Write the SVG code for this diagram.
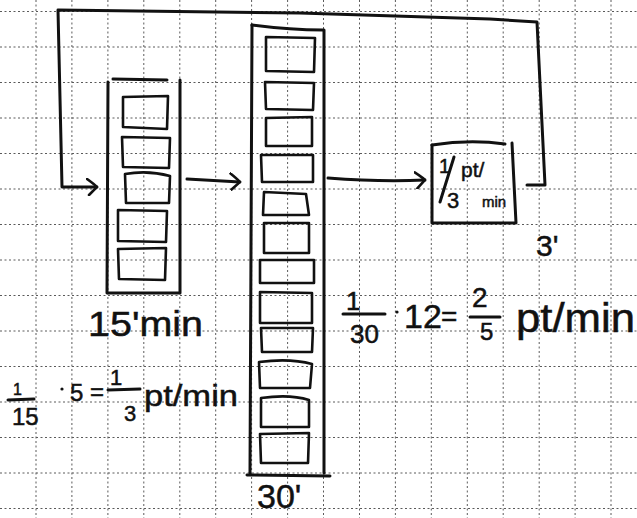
<svg xmlns="http://www.w3.org/2000/svg" width="637" height="518" viewBox="0 0 637 518">
  <defs>
    <style>
      .grid { fill: none; stroke: #5a5a5a; stroke-width: 1; stroke-dasharray: 2 2.5; }
      .ink { fill: none; stroke: #111; stroke-width: 3; stroke-linecap: round; stroke-linejoin: round; }
      .cell { fill: none; stroke: #111; stroke-width: 2.6; stroke-linejoin: round; }
      .hand { font-family: "Liberation Sans", "DejaVu Sans", sans-serif; fill: #111; stroke: #111; stroke-width: 0.5; }
    </style>
    <marker id="chev" viewBox="0 0 12 18" refX="11" refY="9" markerWidth="12" markerHeight="18" markerUnits="userSpaceOnUse" orient="auto">
      <path d="M1,1 Q8,6 11,9 Q7,13 3,17" fill="none" stroke="#111" stroke-width="2.6" stroke-linecap="round"/>
    </marker>
  </defs>

  <rect width="637" height="518" fill="#fff"/>

  <!-- squared paper -->
  <path class="grid" d="M36,0V518 M71.9,0V518 M107.9,0V518 M143.8,0V518 M179.8,0V518 M215.7,0V518 M251.6,0V518 M287.6,0V518 M323.5,0V518 M359.5,0V518 M395.4,0V518 M431.3,0V518 M467.3,0V518 M503.2,0V518 M539.2,0V518 M575.1,0V518 M611,0V518
    M0,11.5H637 M0,47H637 M0,82.5H637 M0,118H637 M0,153.5H637 M0,189H637 M0,224.5H637 M0,260H637 M0,295.5H637 M0,331H637 M0,366.5H637 M0,402H637 M0,437.5H637 M0,473H637 M0,508.5H637"/>

  <!-- connectors -->
  <g id="connectors">
    <path class="ink" d="M527,185 L545,185 L537,22 L490,19 L300,13 L58,10 L62,187 L97,187" marker-end="url(#chev)"/>
    <path class="ink" d="M187,179 L240,182" marker-end="url(#chev)"/>
    <path class="ink" d="M328,178 Q380,182 425,180" marker-end="url(#chev)"/>
  </g>

  <!-- first tank: 5 cells -->
  <g id="tank-15">
    <path class="ink" d="M108,82 L107,293 L180,293 L180,80"/>
    <path class="ink" d="M113,79 L167,80"/>
    <path class="cell" d="M123,97 L168,96 L167,129 L123,127 Z"/>
    <path class="cell" d="M122,137 L170,138 L169,168 L123,167 Z"/>
    <path class="cell" d="M125,174 Q148,170 170,176 L169,203 L126,203 Z"/>
    <path class="cell" d="M118,210 L167,211 L166,242 L118,241 Z"/>
    <path class="cell" d="M118,249 L166,248 L165,280 L119,279 Z"/>
    <text class="hand" x="88" y="336" font-size="35" textLength="115" lengthAdjust="spacingAndGlyphs">15'min</text>
  </g>

  <!-- second tank: 12 cells -->
  <g id="tank-30">
    <path class="ink" d="M252,25 Q290,30 323,30"/>
    <path class="ink" d="M252,25 L250,473"/>
    <path class="ink" d="M324,30 L324,473"/>
    <path class="ink" d="M247,475 L330,476"/>
    <path class="cell" d="M266,37 L315,38 L314,72 L266,71 Z"/>
    <path class="cell" d="M265,82 L314,83 L313,110 L266,109 Z"/>
    <path class="cell" d="M266,118 L312,117 L312,146 L266,146 Z"/>
    <path class="cell" d="M261,155 L313,155 L313,182 L262,182 Z"/>
    <path class="cell" d="M264,192 L306,194 L309,215 L263,215 Z"/>
    <path class="cell" d="M264,223 L309,223 L309,253 L264,253 Z"/>
    <path class="cell" d="M260,260 L314,260 L314,283 L260,283 Z"/>
    <path class="cell" d="M260,292 L312,293 L312,323 L260,323 Z"/>
    <path class="cell" d="M261,328 L313,328 L312,352 L262,352 Z"/>
    <path class="cell" d="M259,362 Q290,358 312,364 L310,388 L260,388 Z"/>
    <path class="cell" d="M261,398 Q290,394 309,400 L309,427 L261,427 Z"/>
    <path class="cell" d="M260,434 L309,433 L308,463 L261,463 Z"/>
    <text class="hand" x="257" y="508" font-size="34">30'</text>
  </g>

  <!-- output box -->
  <g id="output">
    <path class="ink" d="M432,145 Q470,139 505,144"/>
    <path class="ink" d="M512,143 L516,223 L432,223 L432,145"/>
    <text class="hand" x="439" y="173" font-size="20">1</text>
    <path class="ink" d="M440,202 L454,157" stroke-width="2.4"/>
    <text class="hand" x="447" y="208" font-size="22">3</text>
    <text class="hand" x="461" y="177" font-size="21">pt/</text>
    <text class="hand" x="482" y="207" font-size="15">min</text>
    <text class="hand" x="536" y="256" font-size="30">3'</text>
  </g>

  <!-- rate for the first tank -->
  <g id="rate-15">
    <text class="hand" x="13" y="395" font-size="16">1</text>
    <path class="ink" d="M8,400 L34,399" stroke-width="2.4"/>
    <text class="hand" x="12" y="425" font-size="24">15</text>
    <circle cx="62" cy="389" r="1.6" fill="#111"/>
    <text class="hand" x="70" y="401" font-size="24">5</text>
    <text class="hand" x="90" y="400" font-size="24">=</text>
    <text class="hand" x="110" y="385" font-size="22">1</text>
    <path class="ink" d="M108,390 L140,389" stroke-width="2.4"/>
    <text class="hand" x="124" y="421" font-size="22">3</text>
    <text class="hand" x="144" y="406" font-size="30" textLength="94" lengthAdjust="spacingAndGlyphs">pt/min</text>
  </g>

  <!-- rate for the second tank -->
  <g id="rate-30">
    <text class="hand" x="346" y="310" font-size="26">1</text>
    <path class="ink" d="M343,314 L385,314" stroke-width="2.4"/>
    <text class="hand" x="350" y="343" font-size="26">30</text>
    <circle cx="397" cy="312" r="1.6" fill="#111"/>
    <text class="hand" x="404" y="328" font-size="34">12</text>
    <text class="hand" x="441" y="326" font-size="28">=</text>
    <text class="hand" x="472" y="307" font-size="28">2</text>
    <path class="ink" d="M470,317 L500,317" stroke-width="2.4"/>
    <text class="hand" x="480" y="340" font-size="24">5</text>
    <text class="hand" x="516" y="332" font-size="40" textLength="119" lengthAdjust="spacingAndGlyphs">pt/min</text>
  </g>
</svg>
